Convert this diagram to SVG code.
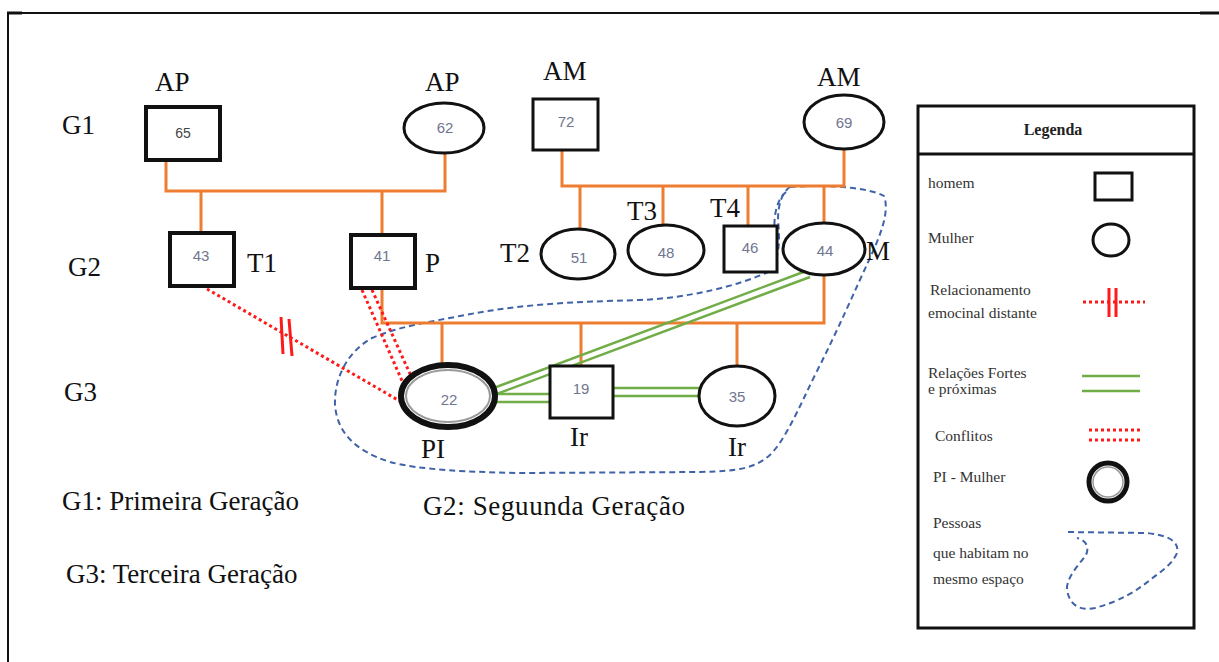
<svg xmlns="http://www.w3.org/2000/svg" width="1219" height="662" viewBox="0 0 1219 662">
  <style>
    .lbl { font-family: "Liberation Serif", "Times New Roman", serif; font-size: 27px; fill: #111; }
    .num { font-family: "Liberation Sans", Arial, sans-serif; font-size: 15px; fill: #6f7690; text-anchor: middle; }
    .leg { font-family: "Liberation Serif", "Times New Roman", serif; font-size: 15.5px; fill: #333; }
    .male { fill: #fff; stroke: #111; stroke-width: 3; }
    .male-thick { fill: #fff; stroke: #111; stroke-width: 4; }
    .female { fill: #fff; stroke: #111; stroke-width: 3; }
    .kin { fill: none; stroke: #ED7D31; stroke-width: 3; }
    .strong { fill: none; stroke: #70AD47; stroke-width: 2.5; }
    .conflict { fill: none; stroke: #FF1A1A; stroke-width: 3; stroke-dasharray: 3 3; }
    .bar { fill: none; stroke: #FF1A1A; stroke-width: 3; }
    .home { fill: none; stroke: #3F62A8; stroke-width: 2; stroke-dasharray: 6 4; }
  </style>

  <!-- page frame -->
  <g id="frame">
    <line x1="8" y1="13" x2="1200" y2="13" stroke="#111" stroke-width="2"/>
    <line x1="1200" y1="13" x2="1219" y2="13" stroke="#111" stroke-width="3"/>
    <line x1="8" y1="12" x2="8" y2="662" stroke="#111" stroke-width="2"/>
    <line x1="7" y1="13" x2="22" y2="13" stroke="#111" stroke-width="3"/>
  </g>

  <!-- household boundary -->
  <g id="household">
    <path class="home" d="M790,187 C830,184 870,188 884,196 C890,212 880,236 870,258 C855,290 838,330 815,375 C798,410 785,440 770,455 C755,468 740,471 700,472 L520,473 C470,472 420,470 390,462 C352,450 337,430 335,405 C334,375 350,350 372,338 C400,326 430,322 460,316 C520,304 570,302 640,300 C690,298 740,285 768,272 C780,260 780,240 778,220 C778,205 782,192 790,187 Z"/>
    <path class="home" d="M786,192 C776,200 773,218 775,236 C777,252 774,264 764,272"/>
  </g>

  <!-- connectors -->
  <g id="connectors">
    <!-- paternal grandparents -->
    <path class="kin" d="M166,160 V191 H445 V153"/>
    <path class="kin" d="M201,191 V232"/>
    <path class="kin" d="M382,191 V236"/>
    <!-- maternal grandparents -->
    <path class="kin" d="M562,150 V186 H844 V149"/>
    <path class="kin" d="M580,186 V229"/>
    <path class="kin" d="M663,186 V225"/>
    <path class="kin" d="M748,186 V225"/>
    <path class="kin" d="M824,186 V223"/>
    <!-- parents and children -->
    <path class="kin" d="M382,288 V323 H824 V275"/>
    <path class="kin" d="M442,323 V365"/>
    <path class="kin" d="M581,323 V365"/>
    <path class="kin" d="M737,323 V366"/>

    <!-- strong and close relations -->
    <line class="strong" x1="491" y1="389" x2="806" y2="271"/>
    <line class="strong" x1="494" y1="395" x2="810" y2="277"/>
    <line class="strong" x1="495" y1="394" x2="549" y2="394"/>
    <line class="strong" x1="495" y1="402" x2="549" y2="402"/>
    <line class="strong" x1="613" y1="388" x2="699" y2="388"/>
    <line class="strong" x1="613" y1="396" x2="699" y2="396"/>

    <!-- distant emotional relation -->
    <line class="conflict" x1="207" y1="289" x2="403" y2="403"/>
    <line class="bar" x1="281" y1="317" x2="283" y2="354"/>
    <line class="bar" x1="289" y1="319" x2="292" y2="356"/>

    <!-- conflict -->
    <line class="conflict" x1="362" y1="290" x2="403" y2="383"/>
    <line class="conflict" x1="372" y1="290" x2="411" y2="376"/>
  </g>

  <!-- generation labels -->
  <g id="generations">
    <text class="lbl" x="62" y="134">G1</text>
    <text class="lbl" x="68" y="276">G2</text>
    <text class="lbl" x="64" y="401">G3</text>
  </g>

  <!-- first generation -->
  <g id="ap-65">
    <rect class="male-thick" x="146" y="107" width="74" height="53"/>
    <text class="num" x="183" y="138" fill="#333" style="fill:#444;font-size:14px">65</text>
    <text class="lbl" x="155" y="91">AP</text>
  </g>
  <g id="ap-62">
    <ellipse class="female" cx="444" cy="128" rx="40" ry="25" stroke-width="3.5"/>
    <text class="num" x="445" y="133">62</text>
    <text class="lbl" x="425" y="91">AP</text>
  </g>
  <g id="am-72">
    <rect class="male" x="533" y="99" width="65" height="51"/>
    <text class="num" x="566" y="127">72</text>
    <text class="lbl" x="543" y="80">AM</text>
  </g>
  <g id="am-69">
    <ellipse class="female" cx="844" cy="122" rx="40" ry="27"/>
    <text class="num" x="844" y="128">69</text>
    <text class="lbl" x="817" y="86">AM</text>
  </g>

  <!-- second generation -->
  <g id="t1-43">
    <rect class="male-thick" x="170" y="233" width="64" height="53"/>
    <text class="num" x="201" y="261">43</text>
    <text class="lbl" x="247" y="272">T1</text>
  </g>
  <g id="p-41">
    <rect class="male-thick" x="351" y="235" width="64" height="53"/>
    <line x1="349" y1="235" x2="417" y2="235" stroke="#111" stroke-width="4"/>
    <text class="num" x="382" y="261">41</text>
    <text class="lbl" x="425" y="272">P</text>
  </g>
  <g id="t2-51">
    <ellipse class="female" cx="578" cy="254" rx="37" ry="25"/>
    <text class="num" x="579" y="263">51</text>
    <text class="lbl" x="500" y="262">T2</text>
  </g>
  <g id="t3-48">
    <ellipse class="female" cx="666" cy="250" rx="38" ry="25"/>
    <text class="num" x="666" y="258">48</text>
    <text class="lbl" x="627" y="220">T3</text>
  </g>
  <g id="t4-46">
    <rect class="male" x="724" y="226" width="53" height="46"/>
    <text class="num" x="750" y="253">46</text>
    <text class="lbl" x="710" y="217">T4</text>
  </g>
  <g id="m-44">
    <ellipse class="female" cx="824" cy="249" rx="41" ry="26"/>
    <text class="num" x="825" y="256">44</text>
    <text class="lbl" x="866" y="260">M</text>
  </g>

  <!-- third generation -->
  <g id="pi-22">
    <ellipse cx="448" cy="396" rx="47" ry="31" fill="#fff" stroke="#111" stroke-width="6"/>
    <ellipse cx="448" cy="396" rx="42" ry="26" fill="none" stroke="#9a9a9a" stroke-width="2"/>
    <text class="num" x="449" y="405">22</text>
    <text class="lbl" x="421" y="458">PI</text>
  </g>
  <g id="ir-19">
    <rect class="male" x="550" y="366" width="63" height="52" stroke-width="3.5"/>
    <text class="num" x="581" y="394">19</text>
    <text class="lbl" x="570" y="446">Ir</text>
  </g>
  <g id="ir-35">
    <ellipse class="female" cx="737" cy="396" rx="38" ry="30"/>
    <text class="num" x="737" y="402">35</text>
    <text class="lbl" x="728" y="456">Ir</text>
  </g>

  <!-- generation key -->
  <g id="generation-key">
    <text class="lbl" x="62" y="510">G1: Primeira Geração</text>
    <text class="lbl" x="423" y="515" textLength="262">G2: Seguunda Geração</text>
    <text class="lbl" x="66" y="583">G3: Terceira Geração</text>
  </g>

  <!-- legend -->
  <g id="legend">
    <rect x="918" y="106" width="276" height="522" fill="#fff" stroke="#111" stroke-width="3"/>
    <line x1="918" y1="154" x2="1194" y2="154" stroke="#111" stroke-width="3"/>
    <text x="1053" y="135" text-anchor="middle" style="font-family:'Liberation Serif','Times New Roman',serif;font-size:16px;font-weight:bold;fill:#222">Legenda</text>

    <text class="leg" x="928" y="188">homem</text>
    <rect x="1095" y="173" width="37" height="27" fill="#fff" stroke="#111" stroke-width="3"/>

    <text class="leg" x="928" y="243">Mulher</text>
    <ellipse cx="1111" cy="240" rx="18" ry="16" fill="#fff" stroke="#111" stroke-width="3"/>

    <text class="leg" x="930" y="295">Relacionamento</text>
    <text class="leg" x="928" y="318">emocinal distante</text>
    <line class="conflict" x1="1083" y1="302" x2="1145" y2="302"/>
    <line class="bar" x1="1109" y1="288" x2="1109" y2="317"/>
    <line class="bar" x1="1116" y1="288" x2="1116" y2="317"/>

    <text class="leg" x="928" y="378">Relações Fortes</text>
    <text class="leg" x="928" y="394">e próximas</text>
    <line class="strong" x1="1082" y1="376" x2="1140" y2="376" stroke-width="3"/>
    <line class="strong" x1="1082" y1="391" x2="1140" y2="391" stroke-width="3"/>

    <text class="leg" x="935" y="441">Conflitos</text>
    <line class="conflict" x1="1089" y1="430" x2="1140" y2="430"/>
    <line class="conflict" x1="1089" y1="440" x2="1140" y2="440"/>

    <text class="leg" x="933" y="482">PI - Mulher</text>
    <ellipse cx="1108" cy="482" rx="19" ry="19" fill="#fff" stroke="#111" stroke-width="5"/>
    <ellipse cx="1108" cy="482" rx="15" ry="15" fill="none" stroke="#999" stroke-width="1.5"/>

    <text class="leg" x="933" y="528">Pessoas</text>
    <text class="leg" x="933" y="558">que habitam no</text>
    <text class="leg" x="933" y="584">mesmo espaço</text>
    <path class="home" d="M1068,532 L1147,533 C1165,535 1180,540 1177,553 C1172,565 1160,572 1150,580 C1135,592 1120,601 1095,608 C1080,611 1070,606 1067,590 C1066,578 1078,566 1086,555 C1090,546 1085,540 1077,538"/>
  </g>
</svg>
